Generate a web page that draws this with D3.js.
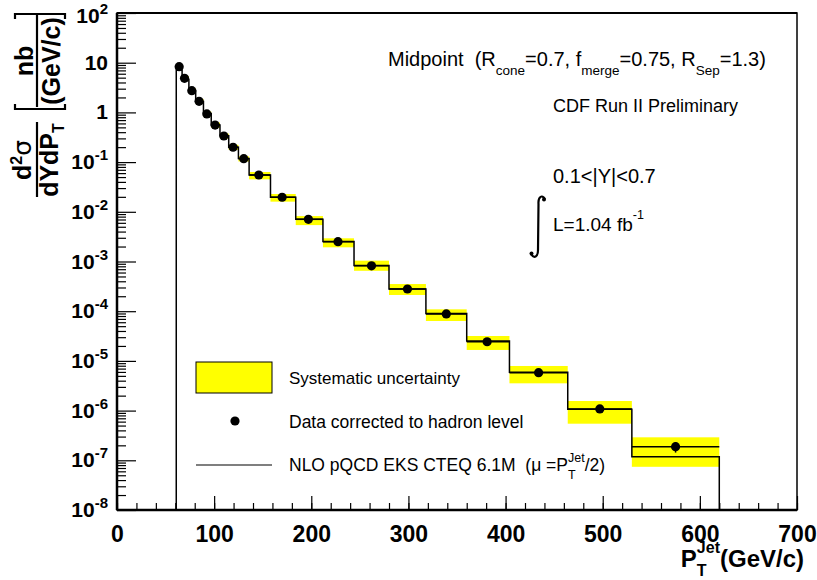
<!DOCTYPE html>
<html><head><meta charset="utf-8">
<script src="https://cdn.jsdelivr.net/npm/d3@7"></script>
<style>
body{margin:0;background:#fff;}
svg{display:block;font-family:"Liberation Sans",Arial,Helvetica,sans-serif;}
text{white-space:pre;}
</style></head>
<body>
<svg id="c" width="817" height="580"></svg>
<script>
// ---- data ----
const binEdges = [61,67,74,81,89,97,106,115,125,136,158,184,212,244,280,318,360,404,464,530,620];
const pointX   = [64,69.5,77,84.5,92.5,101,110,119.5,130.5,146,170,197,227.5,262,299,339,381,434,497,575];
const dataVal  = [8.3,4.85,2.73,1.67,0.93,0.557,0.335,0.199,0.117,0.055,0.0196,0.00706,0.0025,8.2e-4,2.8e-4,8.8e-5,2.43e-5,5.8e-6,1.08e-6,1.88e-7];
const statErr  = [0.05,0.03,0.02,0.01,0.006,0.004,0.002,0.001,7e-4,2e-4,8e-5,3e-5,1.2e-5,4e-6,1.5e-6,6e-7,2e-7,8e-8,2e-8,4.5e-8];
const nloVal   = [7.1,4.6,2.7,1.65,0.95,0.56,0.34,0.2,0.118,0.055,0.0196,0.0071,0.00252,8.3e-4,2.8e-4,9.0e-5,2.5e-5,5.9e-6,1.07e-6,1.18e-7];
const sysHigh  = [9.3,5.4,3.05,1.87,1.04,0.625,0.375,0.223,0.131,0.0632,0.0228,0.0082,0.00293,1.04e-3,3.52e-4,1.09e-4,3.17e-5,7.9e-6,1.56e-6,2.9e-7];
const sysLow   = [7.3,4.3,2.42,1.48,0.82,0.49,0.295,0.175,0.103,0.045,0.016,0.0054,0.00193,6.5e-4,2.12e-4,6.35e-5,1.66e-5,3.54e-6,5.45e-7,7.4e-8];
const xTicks   = [0,100,200,300,400,500,600,700];
const yExps    = [2,1,0,-1,-2,-3,-4,-5,-6,-7,-8];
const legendLabels = ["Systematic uncertainty","Data corrected to hadron level","NLO pQCD EKS CTEQ 6.1M  (\u03BC =P"];

const svg = d3.select("#c");
const L=117,R=797,T=13,B=510;
const x = d3.scaleLinear().domain([0,700]).range([L,R]);
const y = d3.scaleLog().domain([1e-8,1e2]).range([B,T]);
const ymin = 1e-8;

// bands
svg.append("g").selectAll("rect").data(dataVal).join("rect")
  .attr("x",(d,i)=>x(binEdges[i]))
  .attr("width",(d,i)=>x(binEdges[i+1])-x(binEdges[i]))
  .attr("y",(d,i)=>y(sysHigh[i]))
  .attr("height",(d,i)=>y(sysLow[i])-y(sysHigh[i]))
  .attr("fill","#ffff00");

// NLO step line
const stepPts=[[binEdges[0],ymin]];
nloVal.forEach((v,i)=>{stepPts.push([binEdges[i],v]);stepPts.push([binEdges[i+1],v]);});
stepPts.push([binEdges[binEdges.length-1],ymin]);
svg.append("path").datum(stepPts)
  .attr("d",d3.line().x(d=>x(d[0])).y(d=>y(d[1])))
  .attr("fill","none").attr("stroke","#000").attr("stroke-width",1.5);

// data horizontal bars & vertical errors
const dg=svg.append("g").attr("stroke","#000").attr("stroke-width",1.5);
dg.selectAll("line.h").data(dataVal).join("line").attr("class","h")
  .attr("x1",(d,i)=>x(binEdges[i])).attr("x2",(d,i)=>x(binEdges[i+1]))
  .attr("y1",d=>y(d)).attr("y2",d=>y(d));
dg.selectAll("line.v").data(dataVal).join("line").attr("class","v")
  .attr("x1",(d,i)=>x(pointX[i])).attr("x2",(d,i)=>x(pointX[i]))
  .attr("y1",(d,i)=>y(d+statErr[i])).attr("y2",(d,i)=>y(d-statErr[i]));
svg.append("g").selectAll("circle").data(dataVal).join("circle")
  .attr("cx",(d,i)=>x(pointX[i])).attr("cy",d=>y(d)).attr("r",4.6).attr("fill","#000");

// frame
svg.append("rect").attr("x",L).attr("y",T).attr("width",R-L).attr("height",B-T)
  .attr("fill","none").attr("stroke","#000").attr("stroke-width",1.5);
svg.append("line").attr("x1",L).attr("x2",R).attr("y1",B).attr("y2",B).attr("stroke","#000").attr("stroke-width",2.5);
svg.append("line").attr("x1",L).attr("x2",L).attr("y1",T).attr("y2",B).attr("stroke","#000").attr("stroke-width",2.5);
svg.append("line").attr("x1",L).attr("x2",R).attr("y1",T).attr("y2",T).attr("stroke","#000").attr("stroke-width",2);

// x axis ticks
const xMinor = d3.range(0,701,20);
const xa = svg.append("g").attr("transform",`translate(0,${B})`)
  .call(d3.axisBottom(x).tickValues(xMinor).tickSize(-7).tickFormat(""));
xa.select(".domain").remove();
const xb = svg.append("g").attr("transform",`translate(0,${B})`)
  .call(d3.axisBottom(x).tickValues(xTicks).tickSize(-14).tickPadding(10).tickFormat(d3.format("d")));
xb.select(".domain").remove();
xb.selectAll("line").attr("stroke-width",1.2);
xa.selectAll("line").attr("stroke-width",1.2);
xb.selectAll("text").attr("font-size",23).attr("font-weight","bold").attr("fill","#000")
  .attr("font-family","Liberation Sans, Arial, sans-serif").attr("dy","0.95em");

// y axis ticks
const yMinor=[];
yExps.slice(0,-1).forEach(e=>{for(let k=2;k<=9;k++) yMinor.push(k*Math.pow(10,e-1));});
const ya = svg.append("g").attr("transform",`translate(${L},0)`)
  .call(d3.axisRight(y).tickValues(yMinor).tickSize(9).tickFormat(""));
ya.select(".domain").remove();
const yb = svg.append("g").attr("transform",`translate(${L},0)`)
  .call(d3.axisRight(y).tickValues(yExps.map(e=>Math.pow(10,e))).tickSize(19).tickFormat(""));
yb.select(".domain").remove();
ya.selectAll("line").attr("stroke-width",1.2);
yb.selectAll("line").attr("stroke-width",1.2);

// y labels
const yl = svg.append("g").attr("font-weight","bold").attr("fill","#000");
yExps.forEach(e=>{
  const yy = y(Math.pow(10,e))+7 + (e===2?3:0);
  const t = yl.append("text").attr("x",108).attr("y",yy).attr("text-anchor","end").attr("font-size",21);
  if(e===1){t.text("10");}
  else if(e===0){t.text("1");}
  else{
    t.append("tspan").text("10");
    t.append("tspan").attr("dy",-9).attr("font-size",15).text(String(e));
  }
});

// y axis title (rotated)
const yt = svg.append("g").attr("font-weight","bold").attr("fill","#000");
function rtext(cx,cy,parts,size){
  const t=yt.append("text").attr("transform",`translate(${cx},${cy}) rotate(-90)`).attr("text-anchor","middle").attr("font-size",size);
  parts.forEach(p=>{const s=t.append("tspan").text(p.t); if(p.dy) s.attr("dy",p.dy); if(p.fs) s.attr("font-size",p.fs); if(p.ff) s.attr("font-family",p.ff).attr("font-weight","normal");});
  return t;
}
rtext(31,160,[{t:"d"},{t:"2",dy:-9,fs:16},{t:"\u03C3",dy:9,ff:"DejaVu Sans"}],25);
rtext(58,160,[{t:"dYdP"},{t:"T",dy:6,fs:16}],25);
yt.append("line").attr("x1",37).attr("x2",37).attr("y1",122).attr("y2",197).attr("stroke","#000").attr("stroke-width",2.2);
rtext(33,61,[{t:"nb"}],25);
rtext(60,61,[{t:"(GeV/c)"}],25);
yt.append("line").attr("x1",37).attr("x2",37).attr("y1",15).attr("y2",107).attr("stroke","#000").attr("stroke-width",2.2);
yt.append("path").attr("d","M15,104 L15,109 L65,109 L65,104").attr("fill","none").attr("stroke","#000").attr("stroke-width",2.2);
yt.append("path").attr("d","M15,19 L15,14 L65,14 L65,19").attr("fill","none").attr("stroke","#000").attr("stroke-width",2.2);

// helper: text with stacked sub/superscript pieces
function stacked(parent, x0, yb, anchorEnd, pieces){
  const g = parent.append("g");
  let cx = 0, pendW = 0;
  pieces.forEach(p=>{
    const el = g.append("text").attr("font-size",p.fs).attr("font-weight",p.w||null).text(p.t);
    const w = el.node().getComputedTextLength();
    if(p.pos==="sup"||p.pos==="sub"){
      el.attr("x",cx).attr("y",p.pos==="sup"?-p.off:p.off);
      pendW = Math.max(pendW,w);
    } else {
      cx += pendW; pendW=0;
      el.attr("x",cx).attr("y",0);
      cx += w;
    }
  });
  cx += pendW;
  const tx = anchorEnd ? x0 - cx : x0;
  g.attr("transform",`translate(${tx},${yb})`);
  return g;
}

// x axis title
stacked(svg, 804, 567, true, [
  {t:"P",fs:24,w:"bold"},
  {t:"T",fs:16,w:"bold",pos:"sub",off:9},
  {t:"Jet",fs:16,w:"bold",pos:"sup",off:14},
  {t:"(GeV/c)",fs:24,w:"bold"}
]);

// annotations
const an = svg.append("g").attr("fill","#000");
const t1 = an.append("text").attr("x",388).attr("y",66).attr("font-size",20);
t1.append("tspan").text("Midpoint  (R");
t1.append("tspan").attr("font-size",13.5).attr("dy",9).text("cone");
t1.append("tspan").attr("dy",-9).text("=0.7, f");
t1.append("tspan").attr("font-size",13.5).attr("dy",9).text("merge");
t1.append("tspan").attr("dy",-9).text("=0.75, R");
t1.append("tspan").attr("font-size",13.5).attr("dy",9).text("Sep");
t1.append("tspan").attr("dy",-9).text("=1.3)");
an.append("text").attr("x",553).attr("y",112).attr("font-size",18).text("CDF Run II Preliminary");
an.append("text").attr("x",553).attr("y",183).attr("font-size",20).text("0.1<|Y|<0.7");
const t4 = an.append("text").attr("x",553).attr("y",231).attr("font-size",19);
t4.append("tspan").text("L=1.04 fb");
t4.append("tspan").attr("font-size",12.5).attr("dy",-12).text("-1");
an.append("path").attr("d","M545,199 C542,194 538,197 538.5,204 L538,250 C538,257 534,259 531,254")
  .attr("fill","none").attr("stroke","#000").attr("stroke-width",2.2);
an.append("circle").attr("cx",544).attr("cy",199.5).attr("r",2);
an.append("circle").attr("cx",531.5).attr("cy",253.5).attr("r",2);

// legend
const lg = svg.append("g").attr("fill","#000").attr("font-size",17);
lg.append("rect").attr("x",196).attr("y",362).attr("width",76).attr("height",31).attr("fill","#ffff00").attr("stroke","#000").attr("stroke-width",1);
lg.append("text").attr("x",289).attr("y",384).text(legendLabels[0]);
lg.append("circle").attr("cx",235).attr("cy",421).attr("r",4.6);
lg.append("text").attr("x",289).attr("y",428).attr("font-size",17.5).text(legendLabels[1]);
lg.append("line").attr("x1",196).attr("x2",272).attr("y1",465).attr("y2",465).attr("stroke","#000").attr("stroke-width",1.2);
stacked(lg, 289, 471, false, [
  {t:legendLabels[2],fs:17.5},
  {t:"T",fs:12.5,pos:"sub",off:8},
  {t:"Jet",fs:12.5,pos:"sup",off:9},
  {t:"/2)",fs:17.5}
]);
</script>
</body></html>
